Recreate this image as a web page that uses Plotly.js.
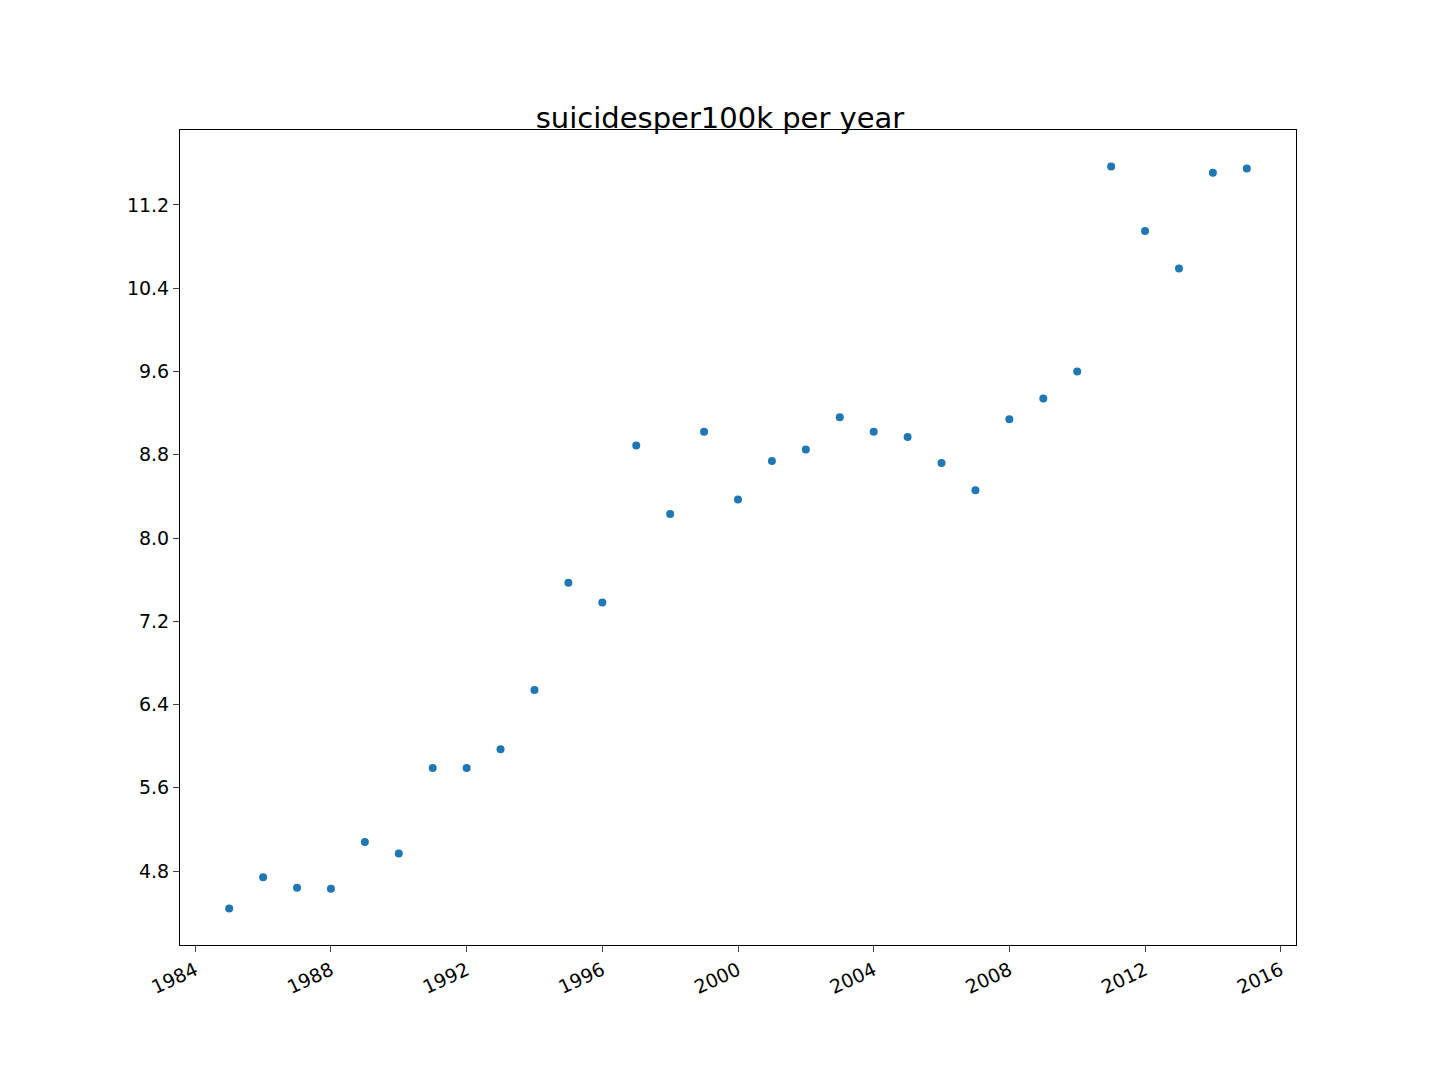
<!DOCTYPE html>
<html><head><meta charset="utf-8">
<script src="https://cdn.plot.ly/plotly-3.0.1.min.js"></script>
<style>body{margin:0}</style></head>
<body><div id="c" style="width:1440px;height:1080px"></div>
<script>
const years=[1985,1986,1987,1988,1989,1990,1991,1992,1993,1994,1995,1996,1997,1998,1999,2000,2001,2002,2003,2004,2005,2006,2007,2008,2009,2010,2011,2012,2013,2014,2015];
const rates=[4.44,4.74,4.64,4.63,5.08,4.97,5.79,5.79,5.97,6.54,7.57,7.38,8.89,8.23,9.02,8.37,8.74,8.85,9.16,9.02,8.97,8.72,8.46,9.14,9.34,9.60,11.57,10.95,10.59,11.51,11.55];
const yTicks=[4.8,5.6,6.4,7.2,8.0,8.8,9.6,10.4,11.2];
Plotly.newPlot('c',[{x:years,y:rates,type:'scatter',mode:'markers',marker:{color:'#1f77b4',size:8}}],{
 width:1440,height:1080,margin:{l:180,r:144,t:130,b:135},
 paper_bgcolor:'white',plot_bgcolor:'white',showlegend:false,
 font:{family:'DejaVu Sans',color:'black'},
 title:{text:'suicidesper100k per year',font:{size:29},x:0.5,xanchor:'center',yref:'paper',y:1,yanchor:'bottom',pad:{b:2}},
 xaxis:{range:[1983.55,2016.45],tickvals:[1984,1988,1992,1996,2000,2004,2008,2012,2016],tickangle:-25,tickfont:{size:19},showgrid:false,zeroline:false,showline:true,mirror:true,linecolor:'black',linewidth:1,ticks:'outside',ticklen:6},
 yaxis:{range:[4.09,11.92],tickvals:yTicks,ticktext:yTicks.map(v=>v.toFixed(1)),tickfont:{size:19},showgrid:false,zeroline:false,showline:true,mirror:true,linecolor:'black',linewidth:1,ticks:'outside',ticklen:6}
},{displayModeBar:false});
</script></body></html>
